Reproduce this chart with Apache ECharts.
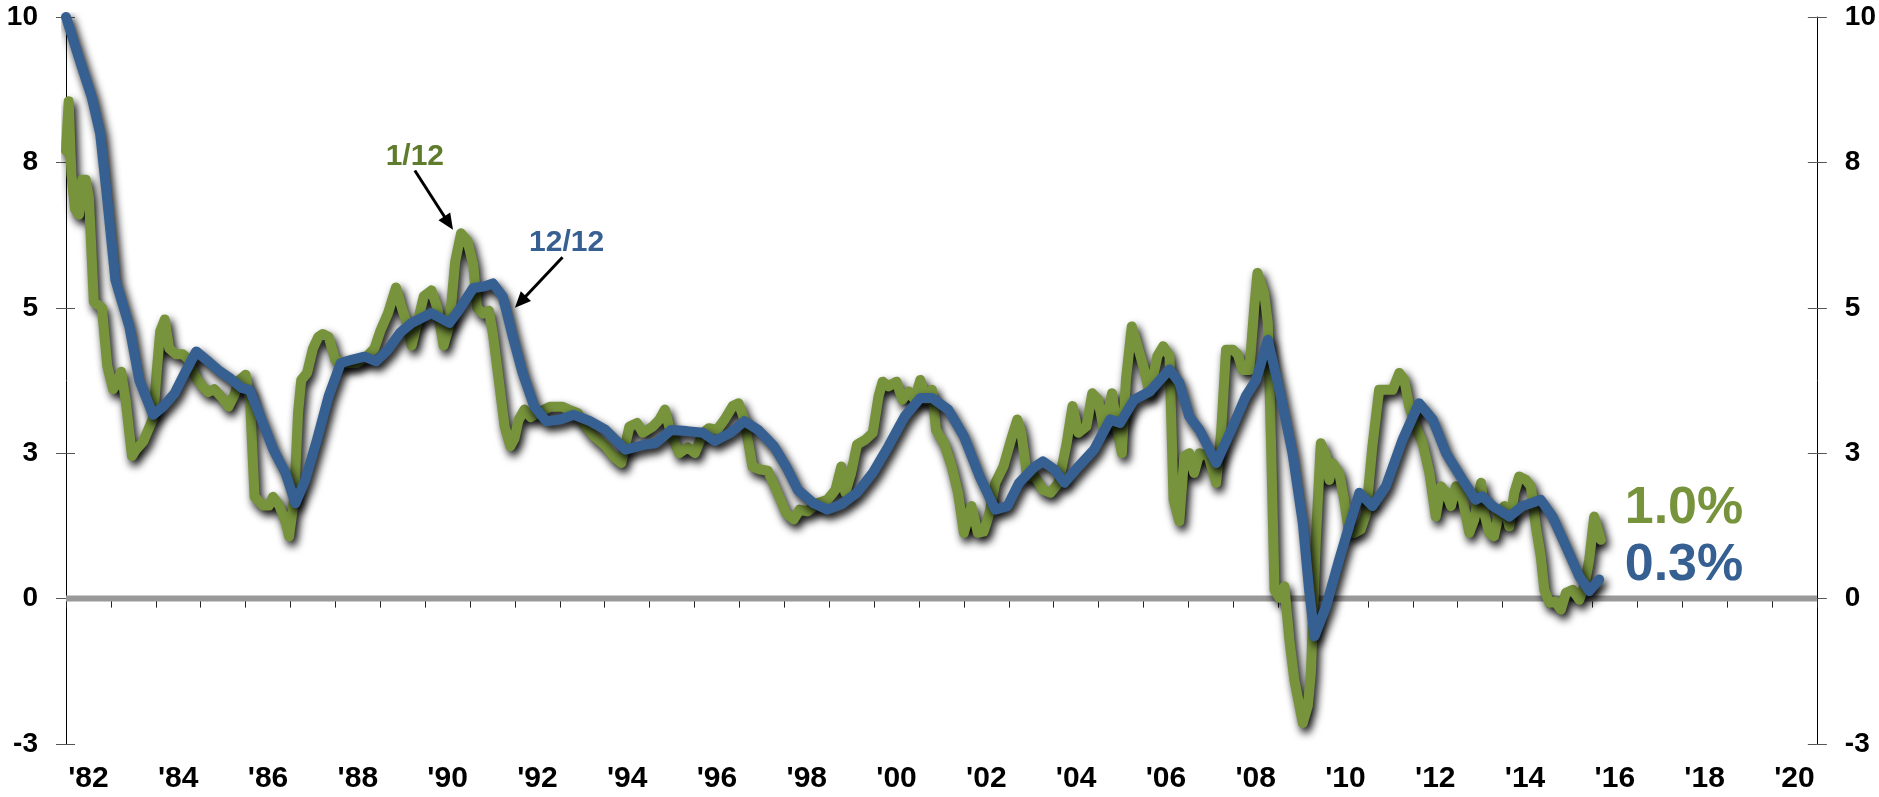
<!DOCTYPE html>
<html>
<head>
<meta charset="utf-8">
<script src="https://cdn.jsdelivr.net/npm/echarts@6/dist/echarts.min.js"></script>
<style>
  html, body { margin: 0; padding: 0; background: #fff; }
  #chart { width: 1879px; height: 797px; }
</style>
</head>
<body>
<div id="chart"></div>
<script>
// year categories for the bottom axis (labels shown on even years)
const yearCats = ['1982','1983','1984','1985','1986','1987','1988','1989','1990','1991',
  '1992','1993','1994','1995','1996','1997','1998','1999','2000','2001','2002','2003',
  '2004','2005','2006','2007','2008','2009','2010','2011','2012','2013','2014','2015',
  '2016','2017','2018','2019','2020'];

// left/right axis ticks and the rounded text printed next to them
const yTicks = [-2.5, 0, 2.5, 5, 7.5, 10];
const yTickText = ['-3', '0', '3', '5', '8', '10'];

// 1/12 series [year, value]
const oneTwelve = [
  [1982.00,7.7],[1982.06,8.55],[1982.12,7.3],[1982.20,6.7],[1982.29,6.6],[1982.36,7.2],
  [1982.44,7.2],[1982.51,6.9],[1982.62,5.1],[1982.80,5.0],[1982.92,4.0],[1983.05,3.6],
  [1983.13,3.7],[1983.23,3.9],[1983.33,3.4],[1983.47,2.45],[1983.55,2.55],[1983.72,2.7],
  [1983.94,3.1],[1984.02,3.9],[1984.10,4.6],[1984.20,4.8],[1984.30,4.3],[1984.45,4.2],
  [1984.60,4.2],[1984.75,4.1],[1984.90,3.8],[1985.04,3.65],[1985.17,3.55],[1985.30,3.6],
  [1985.48,3.45],[1985.62,3.3],[1985.75,3.5],[1985.85,3.75],[1986.00,3.85],[1986.10,3.4],
  [1986.20,1.75],[1986.39,1.6],[1986.52,1.6],[1986.61,1.75],[1986.75,1.6],[1986.90,1.3],
  [1986.97,1.07],[1987.08,1.7],[1987.17,3.2],[1987.24,3.76],[1987.37,3.88],[1987.50,4.3],
  [1987.62,4.5],[1987.72,4.55],[1987.85,4.5],[1988.00,4.1],[1988.21,4.05],[1988.47,4.05],
  [1988.69,4.16],[1988.87,4.3],[1989.00,4.6],[1989.17,4.9],[1989.35,5.35],[1989.48,5.0],
  [1989.61,4.7],[1989.70,4.35],[1989.83,4.75],[1989.97,5.2],[1990.14,5.3],[1990.27,5.0],
  [1990.41,4.35],[1990.54,4.7],[1990.67,5.8],[1990.80,6.28],[1990.94,6.15],[1991.07,5.75],
  [1991.16,5.0],[1991.29,4.9],[1991.42,4.95],[1991.51,4.55],[1991.64,3.76],[1991.77,2.96],
  [1991.90,2.62],[1991.99,2.75],[1992.08,3.07],[1992.21,3.25],[1992.35,3.12],[1992.52,3.2],
  [1992.78,3.3],[1993.05,3.3],[1993.20,3.25],[1993.40,3.19],[1993.58,2.96],[1993.75,2.8],
  [1994.02,2.62],[1994.19,2.45],[1994.37,2.33],[1994.55,2.96],[1994.72,3.02],[1994.85,2.85],
  [1995.07,2.96],[1995.22,3.08],[1995.34,3.25],[1995.47,2.85],[1995.66,2.5],[1995.85,2.6],
  [1996.01,2.5],[1996.19,2.85],[1996.32,2.93],[1996.50,2.9],[1996.67,3.08],[1996.85,3.31],
  [1996.98,3.36],[1997.11,3.08],[1997.29,2.27],[1997.46,2.22],[1997.63,2.2],[1997.82,1.87],
  [1998.04,1.47],[1998.21,1.36],[1998.34,1.53],[1998.52,1.5],[1998.74,1.64],[1998.96,1.7],
  [1999.14,1.87],[1999.27,2.27],[1999.36,1.82],[1999.49,2.16],[1999.62,2.65],[1999.80,2.73],
  [1999.97,2.85],[2000.10,3.48],[2000.19,3.73],[2000.32,3.65],[2000.50,3.73],[2000.63,3.42],
  [2000.77,3.56],[2000.90,3.42],[2001.03,3.76],[2001.16,3.42],[2001.29,3.59],[2001.38,2.9],
  [2001.56,2.67],[2001.73,2.27],[2001.87,1.82],[2002.00,1.13],[2002.17,1.59],[2002.31,1.13],
  [2002.44,1.15],[2002.57,1.47],[2002.70,1.99],[2002.88,2.27],[2003.05,2.73],[2003.19,3.08],
  [2003.28,2.85],[2003.41,2.1],[2003.58,2.1],[2003.76,1.87],[2003.93,1.82],[2004.11,1.99],
  [2004.29,2.67],[2004.42,3.31],[2004.55,2.85],[2004.73,2.96],[2004.86,3.53],[2004.99,3.42],
  [2005.12,2.9],[2005.30,3.53],[2005.43,2.85],[2005.52,2.5],[2005.61,3.76],[2005.74,4.68],
  [2005.87,4.34],[2006.00,3.99],[2006.14,3.53],[2006.31,4.17],[2006.44,4.34],[2006.58,4.17],
  [2006.67,1.7],[2006.80,1.33],[2006.91,2.45],[2007.02,2.5],[2007.13,2.16],[2007.25,2.5],
  [2007.45,2.45],[2007.62,1.99],[2007.73,2.85],[2007.84,4.28],[2007.99,4.28],[2008.10,4.2],
  [2008.21,3.93],[2008.36,3.93],[2008.47,5.02],[2008.54,5.6],[2008.69,5.25],[2008.77,4.74],
  [2008.84,2.73],[2008.92,0.15],[2009.03,0.01],[2009.14,0.21],[2009.25,-0.7],[2009.36,-1.39],
  [2009.55,-2.14],[2009.66,-1.85],[2009.73,-1.28],[2009.84,1.01],[2009.95,2.67],[2010.07,2.45],
  [2010.14,2.04],[2010.21,2.33],[2010.36,2.16],[2010.47,1.7],[2010.58,1.13],[2010.70,1.13],
  [2010.84,1.19],[2010.96,1.47],[2011.10,2.62],[2011.25,3.59],[2011.40,3.59],[2011.55,3.59],
  [2011.70,3.88],[2011.81,3.76],[2011.92,3.3],[2012.07,2.96],[2012.22,2.67],[2012.37,2.16],
  [2012.51,1.41],[2012.63,1.93],[2012.74,1.82],[2012.85,1.59],[2012.96,1.93],[2013.11,1.7],
  [2013.26,1.13],[2013.37,1.36],[2013.52,1.99],[2013.59,1.47],[2013.70,1.13],[2013.81,1.07],
  [2013.92,1.47],[2014.04,1.59],[2014.15,1.24],[2014.26,1.82],[2014.37,2.1],[2014.52,2.04],
  [2014.63,1.93],[2014.74,1.24],[2014.85,0.73],[2014.93,0.15],[2015.04,-0.07],[2015.17,-0.05],
  [2015.30,-0.19],[2015.41,0.1],[2015.56,0.15],[2015.71,-0.02],[2015.82,0.21],[2015.93,0.67],
  [2016.04,1.41],[2016.19,1.01]
];

// 12/12 series [year, value]
const twelveTwelve = [
  [1982.00,10.0],[1982.35,9.15],[1982.57,8.63],[1982.76,8.0],[1982.90,7.0],[1983.10,5.48],
  [1983.41,4.68],[1983.63,3.76],[1983.94,3.16],[1984.16,3.3],[1984.42,3.53],[1984.68,3.93],
  [1984.90,4.25],[1985.12,4.11],[1985.39,3.93],[1985.65,3.79],[1985.92,3.62],[1986.09,3.59],
  [1986.36,3.07],[1986.62,2.56],[1986.89,2.16],[1987.11,1.64],[1987.33,2.04],[1987.59,2.73],
  [1987.85,3.48],[1988.12,4.05],[1988.38,4.11],[1988.65,4.16],[1988.91,4.08],[1989.17,4.28],
  [1989.44,4.57],[1989.70,4.74],[1990.14,4.91],[1990.54,4.74],[1990.76,4.97],[1991.07,5.34],
  [1991.33,5.37],[1991.51,5.42],[1991.73,5.19],[1991.95,4.51],[1992.17,3.88],[1992.43,3.3],
  [1992.70,3.05],[1993.01,3.08],[1993.31,3.16],[1993.67,3.05],[1994.02,2.9],[1994.46,2.56],
  [1994.90,2.65],[1995.13,2.67],[1995.48,2.9],[1995.83,2.88],[1996.19,2.85],[1996.45,2.71],
  [1996.80,2.85],[1997.11,3.05],[1997.42,2.9],[1997.77,2.62],[1998.04,2.27],[1998.30,1.87],
  [1998.65,1.64],[1998.96,1.53],[1999.27,1.62],[1999.62,1.82],[1999.97,2.16],[2000.32,2.62],
  [2000.68,3.13],[2001.03,3.45],[2001.29,3.45],[2001.65,3.25],[2002.00,2.79],[2002.35,2.1],
  [2002.70,1.53],[2002.97,1.59],[2003.23,1.99],[2003.58,2.27],[2003.76,2.36],[2004.02,2.22],
  [2004.24,1.99],[2004.55,2.27],[2004.90,2.56],[2005.26,3.08],[2005.48,3.02],[2005.79,3.42],
  [2006.14,3.56],[2006.58,3.94],[2006.80,3.71],[2007.02,3.13],[2007.25,2.9],[2007.62,2.33],
  [2007.99,2.96],[2008.28,3.48],[2008.51,3.76],[2008.77,4.45],[2009.03,3.59],[2009.32,2.5],
  [2009.55,1.3],[2009.69,0.15],[2009.81,-0.65],[2010.07,-0.13],[2010.36,0.67],[2010.58,1.24],
  [2010.81,1.82],[2011.10,1.59],[2011.40,1.93],[2011.77,2.73],[2012.14,3.36],[2012.44,3.08],
  [2012.74,2.5],[2013.11,2.04],[2013.40,1.7],[2013.55,1.76],[2013.78,1.59],[2014.15,1.41],
  [2014.44,1.59],[2014.85,1.7],[2015.11,1.41],[2015.41,0.9],[2015.71,0.38],[2015.93,0.13],
  [2016.15,0.33]
];

// zero reference line across the whole time range
const zeroLine = [[1982, 0], [2021, 0]];

const GREEN = '#77933c';
const GREEN_TEXT = '#5f7b2c';
const BLUE = '#366092';
const FONT = 'Liberation Sans, Arial, sans-serif';

var chart = echarts.init(document.getElementById('chart'));

var lineShadow = {
    shadowColor: '#000',
    shadowBlur: 8,
    shadowOffsetX: 3,
    shadowOffsetY: 5
};

var yLabel = {
    fontFamily: FONT,
    fontSize: 28,
    fontWeight: 'bold',
    color: '#000',
    margin: 28,
    formatter: (v) => {
        var i = yTicks.indexOf(v);
        return i >= 0 ? yTickText[i] : '';
    }
};

var baseY = {
    type: 'value',
    min: yTicks[0],
    max: yTicks[yTicks.length - 1],
    interval: 2.5,
    splitLine: { show: false }
};

chart.setOption({
    animation: false,
    backgroundColor: '#fff',
    grid: { left: 66, right: 61, top: 17, bottom: 53, containLabel: false },
    xAxis: [
        {
            type: 'category',
            data: yearCats,
            boundaryGap: true,
            position: 'bottom',
            axisLine: { show: true, lineStyle: { color: '#000', width: 1 } },
            axisTick: { show: true, interval: 0, length: 9, lineStyle: { color: '#222', width: 1 } },
            axisLabel: {
                interval: 1,
                margin: 20,
                fontFamily: FONT,
                fontSize: 30,
                fontWeight: 'bold',
                color: '#000',
                formatter: (v) => "'" + v.slice(2)
            }
        },
        {
            type: 'value',
            min: 1982,
            max: 2021,
            show: false
        }
    ],
    yAxis: [
        Object.assign({}, baseY, {
            position: 'left',
            axisLine: { show: true, lineStyle: { color: '#000', width: 1 } },
            axisTick: { show: true, length: 10, lineStyle: { color: '#555' } },
            axisLabel: Object.assign({}, yLabel, { align: 'right' })
        }),
        Object.assign({}, baseY, {
            position: 'right',
            axisLine: { show: true, lineStyle: { color: '#000', width: 1 } },
            axisTick: { show: true, length: 10, lineStyle: { color: '#555' } },
            axisLabel: Object.assign({}, yLabel, { align: 'left' })
        }),
        // inner halves of the crossing ticks
        Object.assign({}, baseY, {
            position: 'left',
            axisLine: { show: false },
            axisTick: { show: true, inside: true, length: 9, lineStyle: { color: '#555' } },
            axisLabel: { show: false }
        }),
        Object.assign({}, baseY, {
            position: 'right',
            axisLine: { show: false },
            axisTick: { show: true, inside: true, length: 9, lineStyle: { color: '#555' } },
            axisLabel: { show: false }
        })
    ],
    series: [
        {
            name: 'zero',
            type: 'line',
            xAxisIndex: 1,
            yAxisIndex: 0,
            data: zeroLine,
            symbol: 'none',
            silent: true,
            z: 1,
            lineStyle: { color: '#999999', width: 6 }
        },
        {
            name: '1/12',
            type: 'line',
            xAxisIndex: 1,
            yAxisIndex: 0,
            data: oneTwelve,
            symbol: 'none',
            z: 3,
            lineStyle: Object.assign({ color: GREEN, width: 10, cap: 'round', join: 'round' }, lineShadow)
        },
        {
            name: '12/12',
            type: 'line',
            xAxisIndex: 1,
            yAxisIndex: 0,
            data: twelveTwelve,
            symbol: 'none',
            z: 4,
            lineStyle: Object.assign({ color: BLUE, width: 10, cap: 'round', join: 'round' }, lineShadow)
        }
    ]
});

// annotations placed in data space
var px = (p) => chart.convertToPixel({ xAxisIndex: 1, yAxisIndex: 0 }, p);

var arrow = (from, to) => {
    var s = px(from), t = px(to);
    var dx = t[0] - s[0], dy = t[1] - s[1];
    var len = Math.sqrt(dx * dx + dy * dy);
    var ux = dx / len, uy = dy / len;
    var hl = 16, hw = 7;
    var bx = t[0] - ux * hl, by = t[1] - uy * hl;
    return [
        {
            type: 'line',
            shape: { x1: s[0], y1: s[1], x2: t[0] - ux * 10, y2: t[1] - uy * 10 },
            style: { stroke: '#000', lineWidth: 3 },
            z: 10
        },
        {
            type: 'polygon',
            shape: { points: [[t[0], t[1]], [bx - uy * hw, by + ux * hw], [bx + uy * hw, by - ux * hw]] },
            style: { fill: '#000' },
            z: 10
        }
    ];
};

var label = (text, at, color, size, align) => {
    var p = px(at);
    return {
        type: 'text',
        x: p[0],
        y: p[1],
        z: 10,
        style: {
            text: text,
            fill: color,
            font: 'bold ' + size + 'px ' + FONT,
            align: align,
            verticalAlign: 'middle'
        }
    };
};

chart.setOption({
    graphic: [].concat(
        [label('1/12', [1989.77, 7.59], GREEN_TEXT, 30, 'center')],
        arrow([1989.77, 7.36], [1990.62, 6.34]),
        [label('12/12', [1993.15, 6.12], BLUE, 30, 'center')],
        arrow([1993.06, 5.87], [1992.0, 5.0]),
        [label('1.0%', [2016.72, 1.55], GREEN, 52, 'left')],
        [label('0.3%', [2016.72, 0.57], BLUE, 52, 'left')]
    )
});
</script>
</body>
</html>
